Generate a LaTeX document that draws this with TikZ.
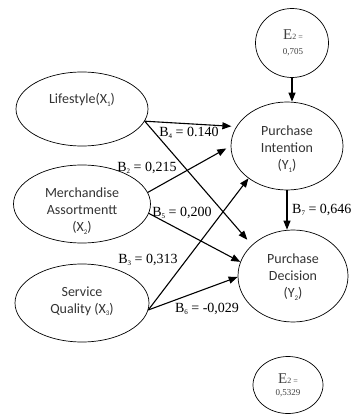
\documentclass[tikz,border=0pt]{standalone}
\usepackage{fontspec}
\setmainfont{Liberation Serif}
\newfontfamily\carlito{Carlito}
\usepackage{tikz}
\usetikzlibrary{shapes.geometric}
\usetikzlibrary{arrows.meta}

\newcommand{\smidx}[1]{\raisebox{-0.35ex}{\fontsize{7}{7}\selectfont #1}}

\tikzset{
  latent/.style={draw, ellipse, line width=.7pt, inner sep=0pt},
  latenttxt/.style={font=\carlito\fontsize{14}{17}\selectfont, align=center, text=black!80, inner sep=0pt},
  errtxt/.style={align=center, text=black!75, inner sep=0pt},
  effect/.style={->, line width=1.1pt},
  coef/.style={font=\fontsize{14}{16}\selectfont, inner sep=0pt}
}

\begin{document}
\begin{tikzpicture}[x=1pt, y=-1pt, >={Triangle[length=9pt, width=7pt]}]
  \useasboundingbox (0,0) rectangle (354,414);

  % exogenous variables
  \node[latent, minimum width=132pt, minimum height=74pt] (life) at (82,109) {};
  \node[latent, minimum width=137pt, minimum height=78pt] (merch) at (82,204) {};
  \node[latent, minimum width=134pt, minimum height=78pt] (serv) at (82,303) {};
  \node[latenttxt] (lifetxt) at (82,100) {Lifestyle(X\smidx{1})};
  \node[latenttxt] (merchtxt) at (82,211) {Merchandise\\Assortmentt\\(X\smidx{2})};
  \node[latenttxt] (servtxt) at (82,301) {Service\\Quality (X\smidx{3})};

  % endogenous variables
  \node[latent, minimum width=112pt, minimum height=88pt] (pi) at (287,146) {};
  \node[latent, minimum width=110pt, minimum height=92pt] (pd) at (293,276) {};
  \node[latenttxt] (pitxt) at (287,149) {Purchase\\Intention\\(Y\smidx{1})};
  \node[latenttxt] (pdtxt) at (293,277) {Purchase\\Decision\\(Y\smidx{2})};

  % error terms
  \node[latent, minimum width=73pt, minimum height=69pt] (e2a) at (292,43) {};
  \node[latent, minimum width=70pt, minimum height=57pt] (e2b) at (288,385) {};
  \node[errtxt] (e2atxt) at (293,43) {{\fontsize{15}{17}\selectfont E}{\fontsize{8}{9}\selectfont 2 =}\\[3pt]{\fontsize{9}{10}\selectfont 0,705}};
  \node[errtxt] (e2btxt) at (288,385) {{\fontsize{15}{17}\selectfont E}{\fontsize{8}{9}\selectfont 2 =}\\[0pt]{\fontsize{9}{10}\selectfont 0,5329}};

  % paths
  \draw[effect, shorten >=5pt] (life.-11) -- (pi.159);
  \draw[effect, shorten >=7pt] (life.-11) -- (pd.143);
  \draw[effect, shorten >=5pt] (merch.10) -- (pi.180);
  \draw[effect] (merch.-8) -- (pd.165);
  \draw[effect] (serv.-6) -- (pi.220);
  \draw[effect] (serv.-6) -- (pd.181);
  \draw[effect] (pi.south) -- (pi.south |- pd.north);
  \draw[effect] (e2a.south) -- (e2a.south |- pi.north);

  % coefficients
  \node[coef] (b4) at (189,133) {B\smidx{4} = 0.140};
  \node[coef] (b2) at (147,168) {B\smidx{2} = 0,215};
  \node[coef] (b5) at (182,213) {B\smidx{5} = 0,200};
  \node[coef] (b3) at (148,260) {B\smidx{3} = 0,313};
  \node[coef] (b6) at (207,309) {B\smidx{6} = -0,029};
  \node[coef, anchor=west] (b7) at (292,210) {B\smidx{7} = 0,646};
\end{tikzpicture}
\end{document}
